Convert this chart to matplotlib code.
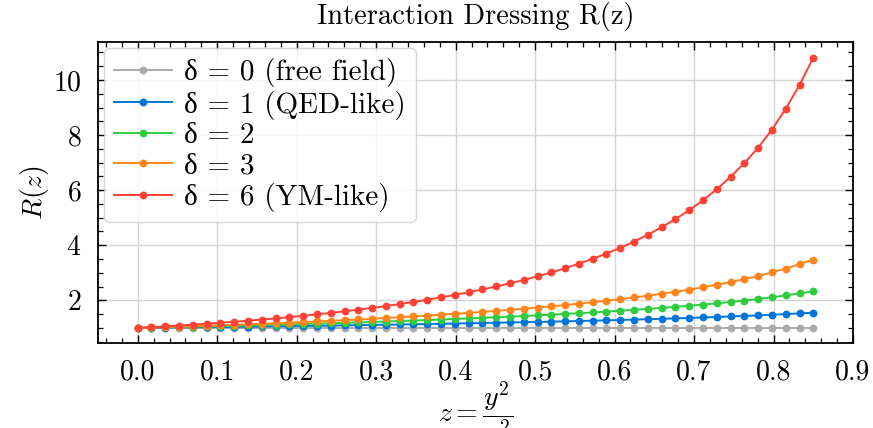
import matplotlib
matplotlib.use("Agg")
import matplotlib.pyplot as plt
from matplotlib.ticker import MultipleLocator

# z = y^2 / x^2 sample points (50 points, 0 .. 0.85)
z = [0.0, 0.0173, 0.0347, 0.0520, 0.0694, 0.0867, 0.1041, 0.1214, 0.1388, 0.1561,
     0.1735, 0.1908, 0.2082, 0.2255, 0.2429, 0.2602, 0.2776, 0.2949, 0.3122, 0.3296,
     0.3469, 0.3643, 0.3816, 0.3990, 0.4163, 0.4337, 0.4510, 0.4684, 0.4857, 0.5031,
     0.5204, 0.5378, 0.5551, 0.5724, 0.5898, 0.6071, 0.6245, 0.6418, 0.6592, 0.6765,
     0.6939, 0.7112, 0.7286, 0.7459, 0.7633, 0.7806, 0.7980, 0.8153, 0.8327, 0.8500]

r_d0 = [1.0] * 50

r_d1 = [1.000, 1.005, 1.010, 1.015, 1.021, 1.026, 1.032, 1.038, 1.044, 1.050,
        1.056, 1.063, 1.069, 1.076, 1.083, 1.091, 1.098, 1.106, 1.114, 1.122,
        1.130, 1.139, 1.148, 1.157, 1.166, 1.175, 1.185, 1.195, 1.205, 1.215,
        1.226, 1.237, 1.249, 1.261, 1.273, 1.286, 1.300, 1.314, 1.329, 1.344,
        1.360, 1.376, 1.394, 1.413, 1.432, 1.453, 1.475, 1.499, 1.525, 1.553]

r_d2 = [1.000, 1.009, 1.019, 1.029, 1.040, 1.051, 1.062, 1.074, 1.086, 1.098,
        1.110, 1.124, 1.137, 1.152, 1.166, 1.181, 1.197, 1.213, 1.230, 1.247,
        1.265, 1.284, 1.303, 1.322, 1.342, 1.363, 1.385, 1.407, 1.430, 1.454,
        1.479, 1.505, 1.532, 1.561, 1.590, 1.621, 1.654, 1.689, 1.725, 1.763,
        1.803, 1.847, 1.892, 1.941, 1.993, 2.048, 2.110, 2.177, 2.249, 2.327]

r_d3 = [1.000, 1.014, 1.029, 1.044, 1.060, 1.076, 1.093, 1.111, 1.129, 1.148,
        1.167, 1.188, 1.209, 1.232, 1.255, 1.279, 1.304, 1.331, 1.358, 1.386,
        1.415, 1.446, 1.477, 1.510, 1.545, 1.580, 1.617, 1.656, 1.696, 1.738,
        1.782, 1.829, 1.878, 1.930, 1.984, 2.042, 2.103, 2.169, 2.238, 2.311,
        2.389, 2.474, 2.565, 2.663, 2.769, 2.882, 3.012, 3.154, 3.310, 3.481]

r_d6 = [1.000, 1.027, 1.055, 1.085, 1.117, 1.150, 1.186, 1.222, 1.261, 1.301,
        1.343, 1.389, 1.437, 1.489, 1.543, 1.600, 1.661, 1.725, 1.793, 1.865,
        1.941, 2.021, 2.106, 2.197, 2.292, 2.394, 2.502, 2.618, 2.741, 2.873,
        3.013, 3.166, 3.330, 3.507, 3.698, 3.904, 4.132, 4.381, 4.652, 4.947,
        5.270, 5.632, 6.035, 6.484, 6.983, 7.538, 8.199, 8.953, 9.817, 10.810]

labels = ["δ = 0 (free field)", "δ = 1 (QED-like)", "δ = 2", "δ = 3",
          "δ = 6 (YM-like)"]
series = [r_d0, r_d1, r_d2, r_d3, r_d6]
colors = ["#AAAAAA", "#0074D9", "#2ECC40", "#FF851B", "#FF4136"]

plt.rcParams.update({
    "font.family": ["cmr10", "Liberation Serif"],
    "mathtext.fontset": "cm",
    "axes.formatter.use_mathtext": True,
    "font.size": 20,
    "xtick.direction": "in",
    "ytick.direction": "in",
    "xtick.top": True,
    "ytick.right": True,
    "xtick.minor.visible": True,
    "ytick.minor.visible": True,
})

fig = plt.figure(figsize=(8.73, 4.28), dpi=100)
ax = fig.add_axes([98 / 873, 1 - 343 / 428, 755 / 873, 301 / 428])

for vals, lab, col in zip(series, labels, colors):
    ax.plot(z, vals, "-o", color=col, label=lab, linewidth=1.4,
            markersize=4.6)

ax.set_xlim(-0.05, 0.9)
ax.set_ylim(0.45, 11.38)
ax.xaxis.set_major_locator(MultipleLocator(0.1))
ax.xaxis.set_minor_locator(MultipleLocator(0.02))
ax.yaxis.set_major_locator(MultipleLocator(2))
ax.yaxis.set_minor_locator(MultipleLocator(0.5))
ax.set_xticks([0.0, 0.1, 0.2, 0.3, 0.4, 0.5, 0.6, 0.7, 0.8, 0.9])
ax.set_xticklabels(["0.0", "0.1", "0.2", "0.3", "0.4", "0.5", "0.6", "0.7",
                    "0.8", "0.9"])
ax.tick_params(which="major", length=6, width=1.0, pad=12, labelsize=20)
ax.tick_params(which="minor", length=3.5, width=0.9)
for sp in ax.spines.values():
    sp.set_linewidth(1.3)
ax.grid(True, which="major", color="#d4d4d4", linewidth=1.0)
ax.set_axisbelow(True)

ax.set_title("Interaction Dressing R(z)", fontsize=20.5, pad=13)
ax.set_ylabel(r"$R(z)$", fontsize=20, labelpad=1)
ax.set_xlabel(r"$z = \dfrac{y^2}{x^2}$", fontsize=20, labelpad=-5)

ax.legend(loc="upper left", fontsize=21, labelspacing=0.12,
          handletextpad=0.4, borderaxespad=0.2, borderpad=0.35,
          handlelength=2.0)

fig.savefig("out.png", dpi=100)
